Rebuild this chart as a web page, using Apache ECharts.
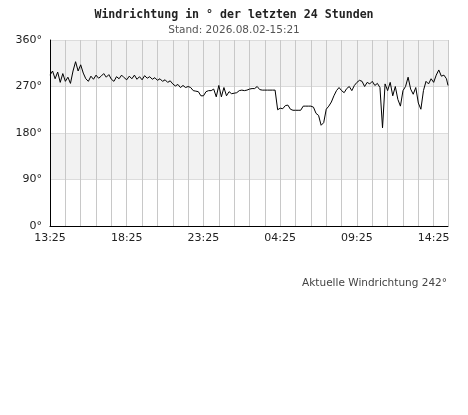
<!DOCTYPE html>
<html>
<head>
<meta charset="utf-8">
<script src="https://cdn.jsdelivr.net/npm/echarts@6/dist/echarts.min.js"></script>
<style>html,body{margin:0;padding:0;background:#fff}#c{width:468px;height:415px}</style>
</head>
<body>
<div id="c"></div>
<script>
// minutes since 13:25 (10-minute steps), last sample at 15:21
const stepMinutes = 10;
const lastMinute = 1556;
const directionValues = [
292,300,285,298,278,295,280,288,276,300,
318,300,312,296,285,280,290,284,292,286,
290,295,288,293,284,280,289,285,292,287,
283,290,285,292,284,289,283,291,286,289,
284,287,282,285,280,283,278,281,275,271,
274,268,272,268,270,268,262,261,260,252,
252,260,262,262,265,250,272,250,268,252,
260,256,257,258,262,263,262,263,265,266,
266,270,264,263,263,263,263,263,263,225,
228,227,233,234,226,224,224,224,224,232,
232,232,232,230,218,214,195,200,226,232,
240,252,262,268,262,258,266,270,262,272,
278,282,280,270,278,275,280,272,276,268,
190,275,262,278,252,270,245,232,262,270,
288,265,255,268,238,226,262,280,275,285,
278,292,302,290,292,285
];
const lastValue = 272;
const xTickLabels = ['13:25','18:25','23:25','04:25','09:25','14:25'];
const yTickLabels = ['0°','90°','180°','270°','360°'];
const titleText = 'Windrichtung in ° der letzten 24 Stunden';
const subtitleText = 'Stand: 2026.08.02-15:21';
const footerText = 'Aktuelle Windrichtung 242°';

const seriesData = directionValues.map((v, i) => [i * stepMinutes, v]);
seriesData.push([lastMinute, lastValue]);

const chart = echarts.init(document.getElementById('c'));
chart.setOption({
  animation: false,
  backgroundColor: '#fff',
  title: [{
    text: titleText,
    left: 'center', top: 4,
    textStyle: {fontFamily: 'DejaVu Sans Mono', fontWeight: 'bold', fontSize: 11.6, color: '#222'}
  }, {
    text: subtitleText,
    left: 'center', top: 20,
    textStyle: {fontFamily: 'DejaVu Sans', fontWeight: 'normal', fontSize: 10.5, color: '#555'}
  }],
  grid: {left: 50, right: 20, top: 40, bottom: 189, containLabel: false},
  xAxis: {
    type: 'value', min: 0, max: lastMinute, interval: 60,
    axisLine: {show: true, lineStyle: {color: '#000', width: 1}},
    axisTick: {show: false},
    splitLine: {show: true, lineStyle: {color: '#c8c8c8', width: 1}},
    axisLabel: {
      margin: 7, color: '#222', fontFamily: 'DejaVu Sans', fontSize: 11,
      showMaxLabel: false,
      formatter: v => (v % 300 === 0 && xTickLabels[v / 300]) ? xTickLabels[v / 300] : ''
    }
  },
  yAxis: {
    type: 'value', min: 0, max: 360, interval: 90,
    axisLine: {show: true, lineStyle: {color: '#000', width: 1}},
    axisTick: {show: false},
    splitLine: {show: true, lineStyle: {color: '#dcdcdc', width: 1}},
    splitArea: {show: true, areaStyle: {color: ['#ffffff', '#f2f2f2']}},
    axisLabel: {
      margin: 8, color: '#222', fontFamily: 'DejaVu Sans', fontSize: 11,
      formatter: v => yTickLabels[v / 90]
    }
  },
  series: [{
    type: 'line',
    data: seriesData,
    showSymbol: false,
    lineStyle: {color: '#000', width: 1},
    z: 5
  }],
  graphic: [{
    type: 'text',
    right: 21, top: 278,
    style: {text: footerText, fill: '#444', font: '10.5px "DejaVu Sans"'}
  }]
});
</script>
</body>
</html>
